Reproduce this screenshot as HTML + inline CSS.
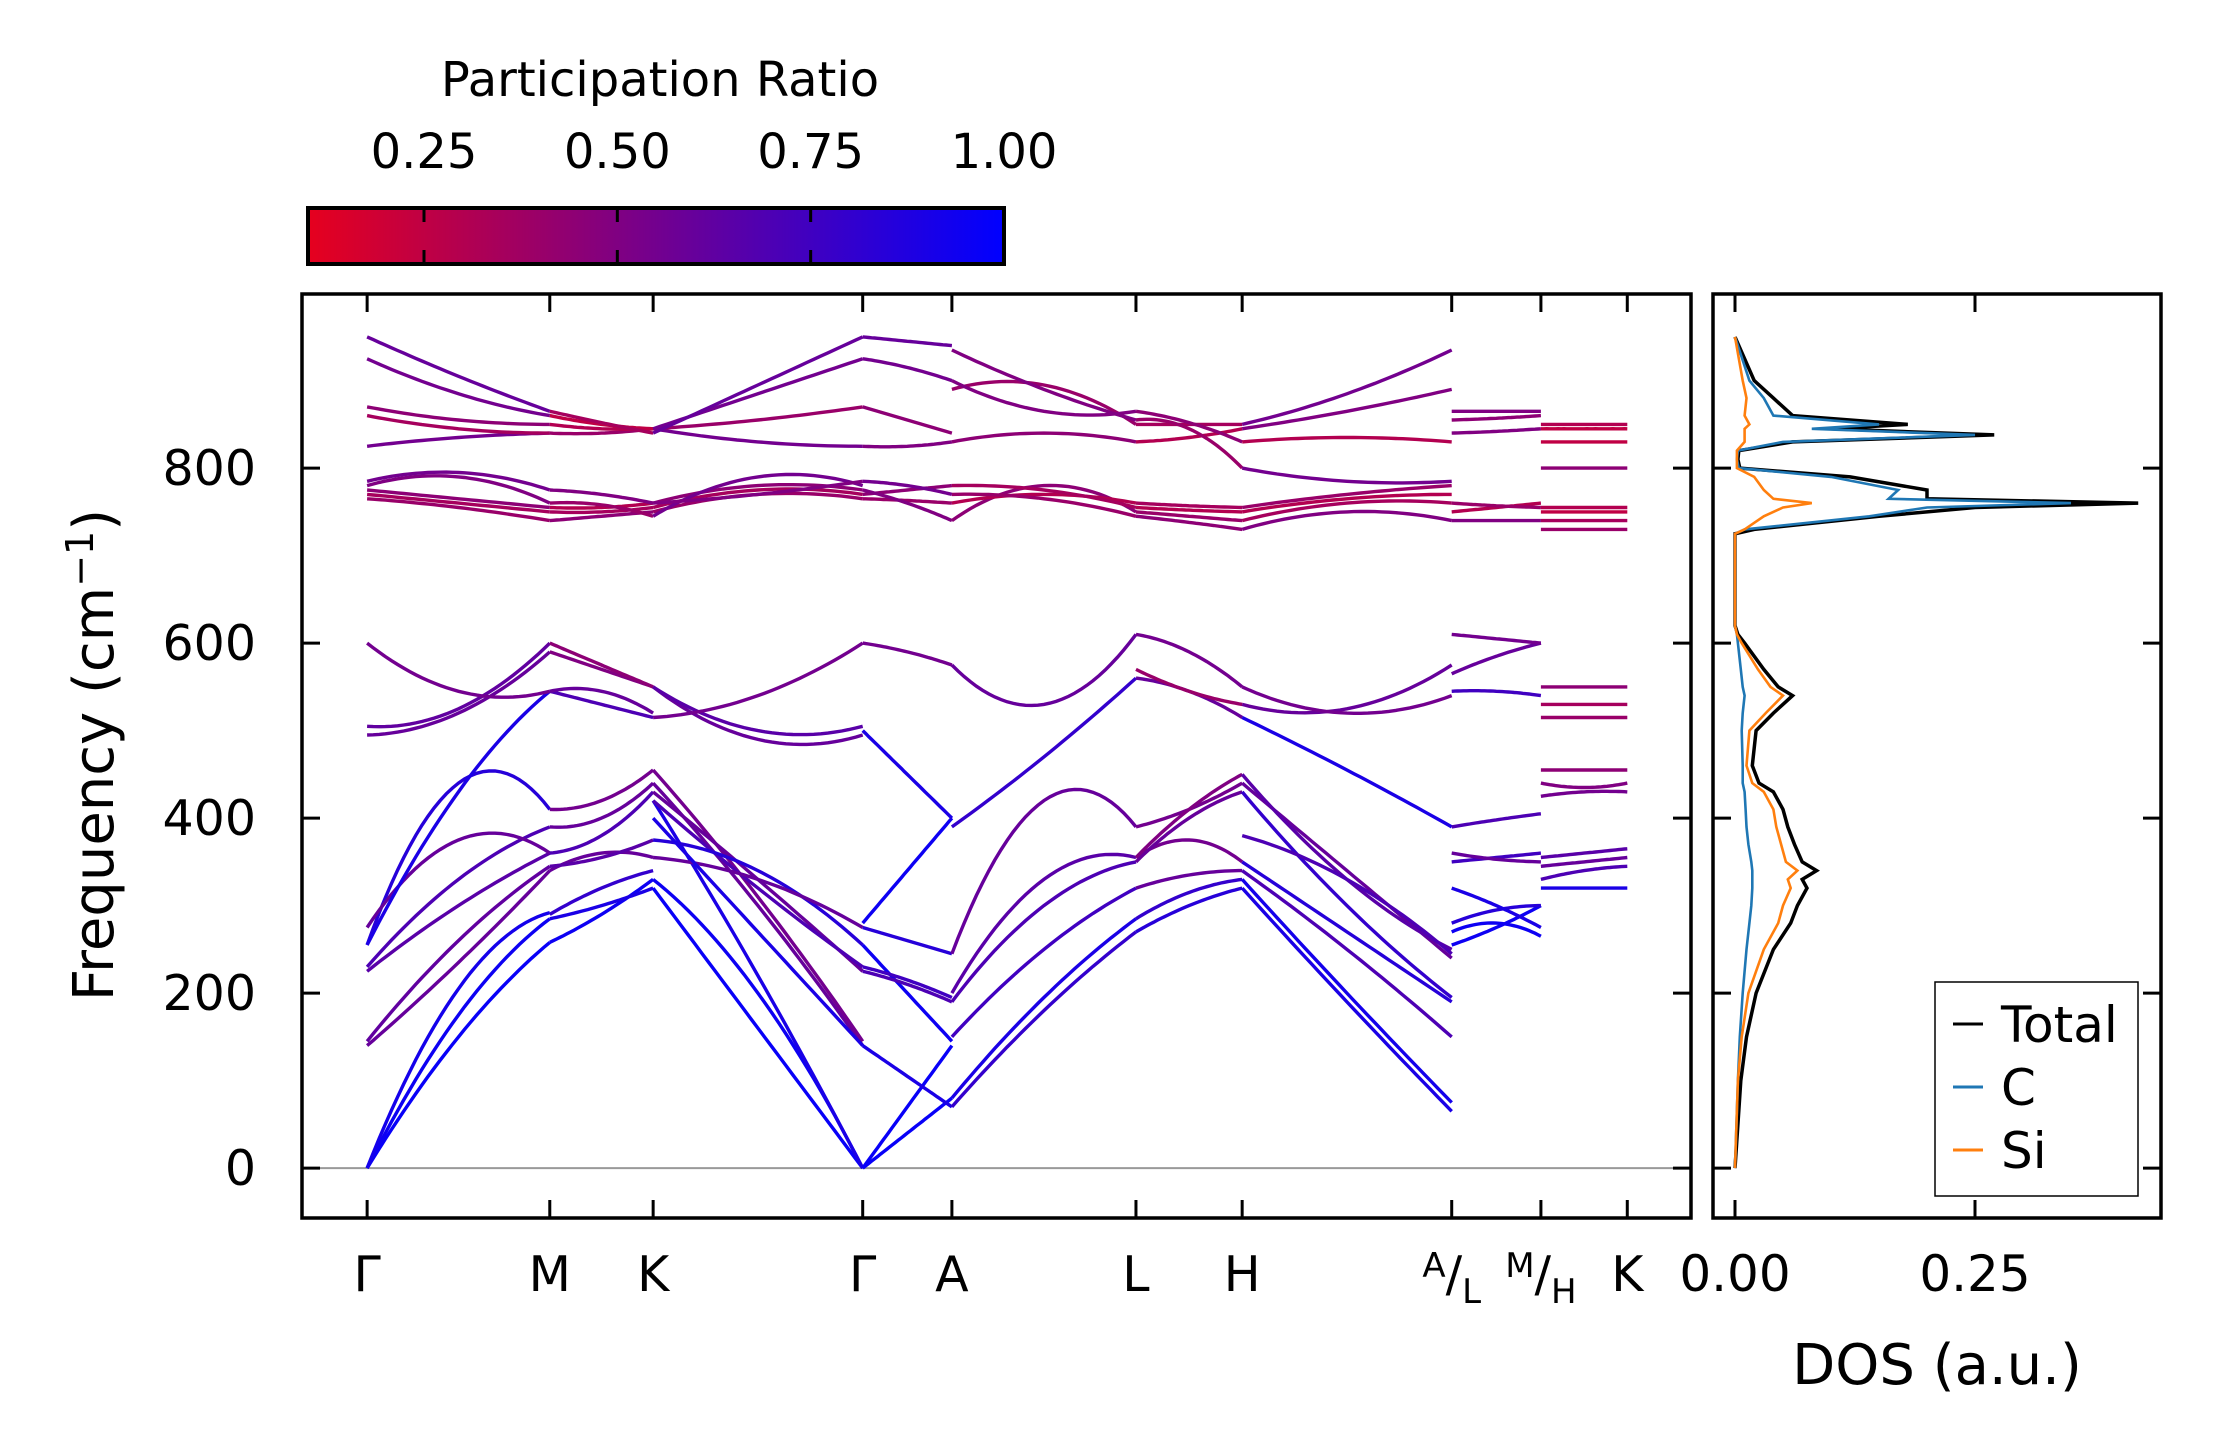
<!DOCTYPE html>
<html><head><meta charset="utf-8">
<style>
html,body{margin:0;padding:0;background:#fff;}
svg{display:block;font-family:"DejaVu Sans","Liberation Sans",sans-serif;}
</style></head>
<body>
<svg id="fig" width="2222" height="1455" viewBox="0 0 2222 1455" xmlns="http://www.w3.org/2000/svg">
<defs>
<linearGradient id="cmap" x1="0" x2="1" y1="0" y2="0">
<stop offset="0" stop-color="rgb(230,0,30)"/>
<stop offset="1" stop-color="rgb(0,0,255)"/>
</linearGradient>
<clipPath id="mainclip"><rect x="302" y="294" width="1389" height="924"/></clipPath>
<clipPath id="dosclip"><rect x="1713" y="294" width="448" height="924"/></clipPath>
</defs>
<g id="colorbar">
<text x="660" y="96" font-size="48" text-anchor="middle">Participation Ratio</text>
<rect x="308" y="208" width="696" height="56" fill="url(#cmap)" stroke="#000" stroke-width="4"/>
</g>
<g id="bands" clip-path="url(#mainclip)"></g>
<g id="dos" clip-path="url(#dosclip)"></g>
<g id="axes"></g>
</svg>
<script>
// ---- data ----
const kLabels = ["Γ","M","K","Γ","A","L","H","A/L","M/H","K"];
const kDist = [0,129,202,350,413,543,618,766,829,890];
const yTicks = [0,200,400,600,800];
const cbTicks = [0.25,0.50,0.75,1.00];
const cbTickLabels = ["0.25","0.50","0.75","1.00"];
const dosTicks = [0,0.25];
const dosTickLabels = ["0.00","0.25"];
// each segment: list of bands [start, mid, end, PR]
const seg0 = [[0,150,258,0.97],[0,175,285,0.95],[0,205,292,0.92],[140,235,340,0.6],[145,260,345,0.62],[225,300,360,0.65],[230,330,390,0.7],[255,440,410,0.85],[275,375,360,0.6],[255,430,545,0.9],[495,520,590,0.6],[505,525,600,0.62],[600,545,545,0.55],
 [765,755,740,0.4],[770,760,750,0.35],[775,765,755,0.45],[780,790,760,0.5],[785,795,775,0.55],[825,835,840,0.55],[860,845,840,0.35],[870,855,850,0.45],[925,885,860,0.55],[950,905,865,0.6]];
const seg1 = [[258,290,330,0.95],[285,300,320,0.9],[290,320,340,0.8],[340,360,355,0.6],[345,355,375,0.65],[360,380,430,0.7],[390,400,440,0.6],[410,420,455,0.55],[545,530,515,0.7],[590,570,550,0.5],[600,575,550,0.45],[545,545,520,0.6],
 [740,745,750,0.45],[750,750,755,0.35],[755,755,760,0.3],[760,758,745,0.4],[775,770,760,0.5],[840,840,845,0.4],[850,845,845,0.3],[860,850,845,0.25],[865,852,840,0.35]];
const seg2 = [[320,160,0,0.97],[330,200,0,0.95],[420,220,0,0.9],[440,300,140,0.6],[455,310,145,0.55],[430,330,225,0.6],[420,320,230,0.7],[375,340,255,0.85],[355,330,275,0.6],[400,270,140,0.9],[550,490,495,0.6],[550,500,505,0.65],[515,540,600,0.55],
 [750,770,765,0.4],[755,775,770,0.35],[760,780,775,0.45],[745,790,780,0.55],[760,770,785,0.5],[845,830,825,0.55],[845,855,870,0.4],[845,885,925,0.55],[840,895,950,0.6]];
const seg3 = [[0,40,80,0.97],[0,70,140,0.97],[140,105,70,0.9],[280,340,400,0.95],[255,200,145,0.95],[275,260,245,0.85],[225,210,190,0.7],[230,215,195,0.75],[500,450,400,0.9],[600,590,575,0.55],
 [765,763,760,0.4],[770,775,780,0.45],[785,780,770,0.55],[775,760,740,0.5],[825,825,830,0.5],[870,855,840,0.45],[925,915,900,0.55],[950,945,940,0.6]];
const seg4 = [[70,180,270,0.8],[80,195,285,0.9],[150,250,320,0.75],[190,300,350,0.7],[245,420,390,0.6],[390,470,560,0.8],[575,530,610,0.6],[200,330,355,0.65],
 [740,780,750,0.45],[760,770,760,0.3],[780,775,755,0.35],[890,895,850,0.4],[935,890,855,0.5],[830,840,830,0.45],[900,865,865,0.5],[770,765,745,0.4]];
const seg5 = [[270,300,320,0.85],[285,315,330,0.8],[320,335,340,0.6],[355,375,350,0.55],[350,400,430,0.6],[390,410,440,0.55],[560,545,515,0.6],[570,545,530,0.4],[610,590,550,0.55],[355,410,450,0.5],
 [745,738,730,0.45],[750,745,740,0.4],[755,752,750,0.3],[760,757,755,0.35],[830,835,845,0.3],[850,850,850,0.35],[855,845,800,0.4],[865,852,830,0.45]];
const seg6 = [[320,190,65,0.9],[330,200,75,0.92],[340,250,150,0.7],[350,270,190,0.85],[430,300,195,0.8],[440,340,240,0.6],[450,330,250,0.65],[515,455,390,0.9],[530,525,575,0.6],[550,520,540,0.55],[380,330,245,0.7],
 [730,750,740,0.5],[740,760,760,0.35],[750,765,770,0.3],[755,770,780,0.4],[800,785,785,0.55],[830,835,830,0.3],[845,865,890,0.5],[850,885,935,0.55]];
const seg7 = [[255,275,300,0.95],[270,280,265,0.95],[280,295,300,0.85],[320,300,275,0.9],[350,355,360,0.75],[360,353,350,0.6],[390,398,405,0.7],[545,545,540,0.75],[565,585,600,0.6],[610,605,600,0.55],
 [740,740,740,0.5],[750,755,760,0.3],[760,757,755,0.4],[840,842,845,0.5],[855,857,860,0.45],[865,865,865,0.5]];
const seg8 = [[320,320,320,0.9],[330,340,345,0.7],[345,350,355,0.6],[355,360,365,0.65],[425,430,430,0.55],[440,435,440,0.5],[455,455,455,0.45],[515,515,515,0.4],[530,530,530,0.35],[550,550,550,0.45],
 [730,730,730,0.4],[740,740,740,0.35],[750,750,750,0.25],[755,755,755,0.3],[800,800,800,0.45],[830,830,830,0.25],[845,845,845,0.25],[850,850,850,0.3]];
const segments = [seg0,seg1,seg2,seg3,seg4,seg5,seg6,seg7,seg8];
// DOS
const dosFreq  = [0,100,150,200,250,280,300,320,330,340,350,370,390,410,430,440,460,500,520,540,550,570,600,610,620,700,725,730,745,755,760,765,775,790,800,810,820,830,838,845,850,860,880,900,950];
const dosTotal = [0,.006,.012,.022,.04,.058,.065,.075,.07,.085,.07,.062,.055,.05,.04,.025,.018,.022,.04,.06,.045,.03,.01,.003,0,0,0,.02,.15,.25,.42,.2,.2,.12,.005,.003,.004,.06,.27,.1,.18,.06,.04,.02,0];
const dosC     = [0,.003,.005,.008,.012,.015,.017,.018,.018,.018,.017,.014,.012,.011,.01,.008,.008,.007,.008,.01,.008,.006,.003,.002,0,0,0,.01,.14,.2,.35,.16,.17,.1,.004,.002,.003,.05,.25,.08,.15,.04,.03,.015,0];
const dosSi    = [0,.003,.007,.014,.03,.045,.05,.058,.055,.065,.053,.048,.043,.04,.03,.018,.012,.015,.032,.05,.037,.024,.007,.002,0,0,0,.01,.03,.05,.08,.04,.03,.02,.002,.002,.002,.01,.01,.01,.015,.01,.012,.008,0];

// ---- scales ----
const NS="http://www.w3.org/2000/svg";
const X0=302,X1=1691,Y0=294,Y1=1218,DX0=1713,DX1=2161;
const kMin=-46,kMax=935,fMin=-57,fMax=999;
const kx=k=>X0+(k-kMin)/(kMax-kMin)*(X1-X0);
const fy=f=>Y1-(f-fMin)/(fMax-fMin)*(Y1-Y0);
const dx=d=>1735+d/0.25*240;
const cbx=v=>308+(v-0.1)/0.9*696;
function col(p){const t=Math.max(0,Math.min(1,(p-0.1)/0.9));return `rgb(${Math.round(230*(1-t))},0,${Math.round(30+225*t)})`;}
function mk(tag,attrs,parent){const e=document.createElementNS(NS,tag);for(const k in attrs)e.setAttribute(k,attrs[k]);parent.appendChild(e);return e;}
const bandsG=document.getElementById('bands');
const dosG=document.getElementById('dos');
const axesG=document.getElementById('axes');

const zl=mk('line',{x1:X0,x2:X1,y1:fy(0),y2:fy(0),stroke:'#999','stroke-width':2},bandsG);



segments.forEach((seg,si)=>{
  const ka=kDist[si],kb=kDist[si+1];
  seg.forEach((b,bi)=>{
    const [a,m,c,p]=b;let d='';
    for(let i=0;i<=30;i++){const t=i/30;
      const f=a*2*(t-0.5)*(t-1)+m*(-4)*t*(t-1)+c*2*t*(t-0.5);
      d+=(i?'L':'M')+kx(ka+(kb-ka)*t).toFixed(1)+','+fy(f).toFixed(1);}
    const el=mk('path',{d:d,fill:'none',stroke:col(p),'stroke-width':3.4},bandsG);
    
    
  });
});

[[dosTotal,'#000','dos-total'],[dosC,'#1f77b4','dos-c'],[dosSi,'#ff7f0e','dos-si']].forEach(([arr,c,n])=>{
  let d='';arr.forEach((v,i)=>{d+=(i?'L':'M')+dx(v).toFixed(1)+','+fy(dosFreq[i]).toFixed(1);});
  const el=mk('path',{d:d,fill:'none',stroke:c,'stroke-width':c=='#000'?3.5:2.6},dosG);
  
  
});

const f1=mk('rect',{x:X0,y:Y0,width:X1-X0,height:Y1-Y0,fill:'none',stroke:'#000','stroke-width':3.5},axesG);


const f2=mk('rect',{x:DX0,y:Y0,width:DX1-DX0,height:Y1-Y0,fill:'none',stroke:'#000','stroke-width':3.5},axesG);



const TL=18;
yTicks.forEach(v=>{const y=fy(v);
  [[X0,X0+TL],[X1,X1-TL],[DX0,DX0+TL],[DX1,DX1-TL]].forEach(([a,b])=>mk('line',{x1:a,x2:b,y1:y,y2:y,stroke:'#000','stroke-width':3},axesG));
  const t=mk('text',{x:256,y:y+17,'font-size':49,'text-anchor':'end'},axesG);t.textContent=String(v);
  
  
});
kDist.forEach((k,i)=>{const x=kx(k);
  mk('line',{x1:x,x2:x,y1:Y0,y2:Y0+TL,stroke:'#000','stroke-width':3},axesG);
  mk('line',{x1:x,x2:x,y1:Y1,y2:Y1-TL,stroke:'#000','stroke-width':3},axesG);
  const lab=kLabels[i];
  const t=mk('text',{x:x,y:1291,'font-size':49,'text-anchor':'middle'},axesG);
  if(lab.includes('/')){const [p,q]=lab.split('/');
    const s1=mk('tspan',{'font-size':34,dy:-14},t);s1.textContent=p;
    const s2=mk('tspan',{'font-size':49,dy:14},t);s2.textContent='/';
    const s3=mk('tspan',{'font-size':34,dy:12},t);s3.textContent=q;
  } else t.textContent=lab;
  
  
});
dosTicks.forEach((v,i)=>{const x=dx(v);
  mk('line',{x1:x,x2:x,y1:Y0,y2:Y0+TL,stroke:'#000','stroke-width':3},axesG);
  mk('line',{x1:x,x2:x,y1:Y1,y2:Y1-TL,stroke:'#000','stroke-width':3},axesG);
  const t=mk('text',{x:x,y:1291,'font-size':50,'text-anchor':'middle'},axesG);t.textContent=dosTickLabels[i];
  
  
});
cbTicks.forEach((v,i)=>{const x=cbx(v);
  if(v<1){mk('line',{x1:x,x2:x,y1:208,y2:222,stroke:'#000','stroke-width':3},axesG);
  mk('line',{x1:x,x2:x,y1:250,y2:264,stroke:'#000','stroke-width':3},axesG);}
  const t=mk('text',{x:x,y:168,'font-size':48,'text-anchor':'middle'},axesG);t.textContent=cbTickLabels[i];
  
  
});
const yl=mk('text',{x:0,y:0,'font-size':56,'text-anchor':'middle',transform:'translate(113,755) rotate(-90)'},axesG);


yl.appendChild(document.createTextNode('Frequency (cm'));
const sup=mk('tspan',{'font-size':38,dy:-20},yl);sup.textContent='−1';
const cl=mk('tspan',{dy:20},yl);cl.textContent=')';
const xl=mk('text',{x:1937,y:1384,'font-size':56,'text-anchor':'middle'},axesG);xl.textContent='DOS (a.u.)';



const lg=mk('g',{},axesG);


mk('rect',{x:1935,y:982,width:203,height:214,fill:'#fff',stroke:'#000','stroke-width':1.5},lg);
[['Total','#000',1032],['C','#1f77b4',1095],['Si','#ff7f0e',1158]].forEach(([n,c,y])=>{
  mk('line',{x1:1953,x2:1983,y1:y-8,y2:y-8,stroke:c,'stroke-width':3},lg);
  const t=mk('text',{x:2001,y:y+10,'font-size':50},lg);t.textContent=n;
  
  
});
</script>
</body></html>
